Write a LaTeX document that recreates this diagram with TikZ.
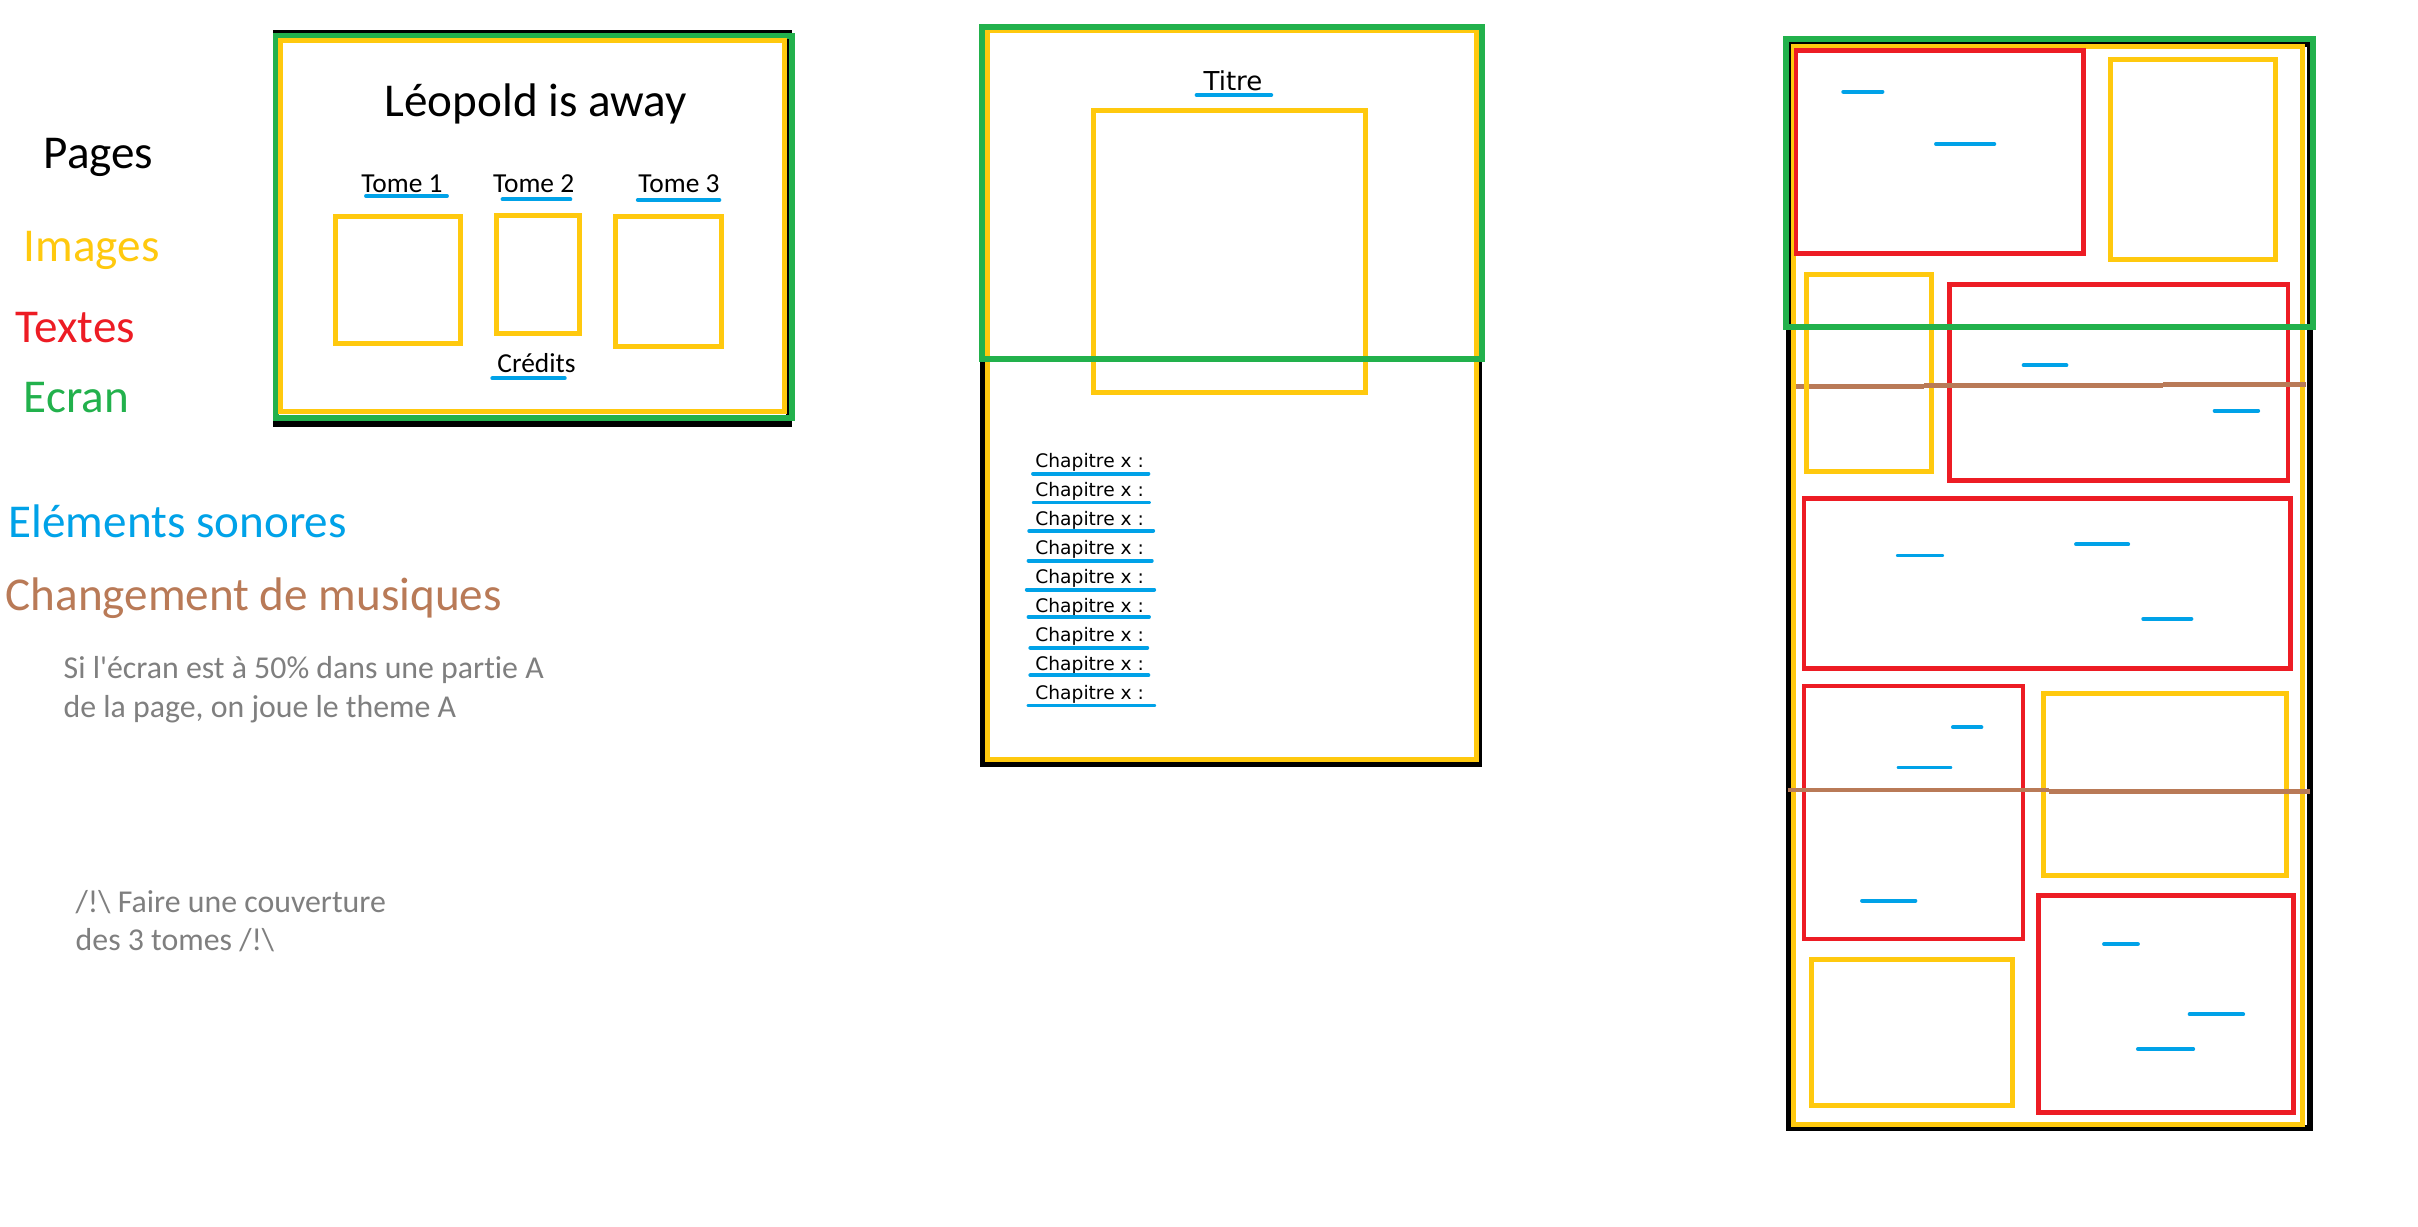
\documentclass[tikz,border=0pt]{standalone}
\usepackage{fontspec}
\setmainfont{Carlito}[Ligatures=NoCommon]
\newfontfamily\verd{DejaVu Sans}
\definecolor{pyellow}{HTML}{FFC90E}
\definecolor{pred}{HTML}{ED1C24}
\definecolor{pgreen}{HTML}{22B14C}
\definecolor{pblue}{HTML}{00A2E8}
\definecolor{pbrown}{HTML}{B97A57}
\definecolor{pgray}{HTML}{7F7F7F}
\newcommand{\legfont}{\fontsize{13.4}{16}\selectfont}
\newcommand{\notefont}{\fontsize{9.05}{11}\selectfont}
\newcommand{\tomefont}{\fontsize{7.8}{9}\selectfont}
\newcommand{\straightq}{\XeTeXglyph\XeTeXcharglyph"0027\relax}
\begin{document}
\begin{tikzpicture}[x=0.01cm,y=-0.01cm,
  pagebox/.style={draw=black, line width=1.7pt},
  imgbox/.style={draw=pyellow, line width=1.42pt},
  txtbox/.style={draw=pred, line width=1.3pt},
  scrbox/.style={draw=pgreen, line width=1.7pt},
  sound/.style={draw=pblue, line width=1.1pt, line cap=round},
  music/.style={draw=pbrown, line width=1.3pt},
  lbl/.style={inner sep=0pt, anchor=base west},
  ctr/.style={inner sep=0pt, anchor=base}]
\useasboundingbox (0,0) rectangle (2418,1226);
\fill[white] (0,0) rectangle (2418,1226);

% ---------- legend ----------
\node[lbl, font=\legfont] (pages) at (43,168) {Pages};
\node[lbl, font=\legfont, text=pyellow] (images) at (23,261) {Images};
\node[lbl, font=\legfont, text=pred] (textes) at (15,342.5) {Textes};
\node[lbl, font=\legfont, text=pgreen] (ecran) at (23,412.5) {Ecran};
\node[lbl, font=\legfont, text=pblue] (sonores) at (8,537) {Eléments sonores};
\node[lbl, font=\legfont, text=pbrown] (musiques) at (5,610.5) {Changement de musiques};
\node[lbl, font=\notefont, text=pgray] (note1) at (63,678.5) {Si l\straightq écran est à 50\% dans une partie A};
\node[lbl, font=\notefont, text=pgray] (note2) at (63,717) {de la page, on joue le theme A};
\node[lbl, font=\notefont, text=pgray] (warn1) at (75,912) {/!\textbackslash{} Faire une couverture};
\node[lbl, font=\notefont, text=pgray] (warn2) at (75,950.5) {des 3 tomes /!\textbackslash};

% ---------- page 1 : cover ----------
\draw[pagebox] (276,33) rectangle (789,424);
\draw[scrbox] (276,36) rectangle (792,418);
\draw[imgbox] (280.6,40.7) rectangle (784,411.7);
\node[ctr, font=\legfont] (leo) at (535.7,116) {Léopold is away};
\node[ctr, font=\tomefont] (tome1) at (402,192.5) {Tome 1};
\node[ctr, font=\tomefont] (tome2) at (533.7,192.5) {Tome 2};
\node[ctr, font=\tomefont] (tome3) at (679,192.5) {Tome 3};
\draw[sound] (366,196) -- (447,196);
\draw[sound] (502.5,199.3) -- (570.4,199.3);
\draw[sound] (637.8,200) -- (719.4,200);
\draw[imgbox] (335.7,216.7) rectangle (460.7,343.3);
\draw[imgbox] (496.4,215) rectangle (579,333.3);
\draw[imgbox] (615.8,216.7) rectangle (721,346);
\node[ctr, font=\tomefont] (credits) at (536.5,372.5) {Crédits};
\draw[sound] (492.3,378.3) -- (564.8,378.3);

% ---------- page 2 : chapters ----------
\draw[pagebox] (983,29) rectangle (1479,763.7);
\draw[imgbox] (987.2,30.8) rectangle (1476.9,759.7);
\draw[imgbox] (1093.3,110.4) rectangle (1365.3,392);
\draw[scrbox] (982,27.4) rectangle (1482,359.2);
\node[ctr, font=\verd\fontsize{7.4}{9}\selectfont] (titre) at (1233,90.5) {Titre};
\draw[sound] (1196.6,95) -- (1271.3,95);
\foreach \i/\yb/\yu/\xa/\xb in {1/467.7/473.6/1033/1148.4, 2/496.5/502.5/1033.7/1149,
   3/525.4/530.8/1029.2/1153.2, 4/554.7/560.7/1028.5/1151.8, 5/583.6/589.6/1026.8/1154.2,
   6/612.4/616.9/1028.5/1149, 7/641.8/647.8/1030.3/1147.3, 8/670.6/675.1/1030.3/1148.4,
   9/699.5/705.5/1028.5/1154.2}{
  \node[lbl, font=\verd\fontsize{5.3}{6}\selectfont] (chap\i) at (1034.7,\yb) {Chapitre x :};
  \draw[sound] (\xa,\yu) -- (\xb,\yu);
}

% ---------- page 3 : long scrolling page ----------
\draw[pagebox] (1788.6,44) rectangle (2309.5,1128.3);
\draw[music] (1794,386.7) -- (1924,386.7);
\draw[imgbox] (1793.2,46.7) rectangle (2302.9,1124);
% text blocks
\draw[txtbox] (1796,50.7) rectangle (2083.6,253.3);
\draw[txtbox] (1949.3,284.3) rectangle (2287.9,480.7);
\draw[txtbox] (1804,498.3) rectangle (2290.4,668.6);
\draw[txtbox] (1804,686) rectangle (2022.9,938.8);
\draw[txtbox] (2038.6,895.4) rectangle (2293.6,1112.3);
% images
\draw[imgbox] (2110,59.3) rectangle (2275.4,259.3);
\draw[imgbox] (1806.4,274.3) rectangle (1931.8,471.7);
\draw[imgbox] (2043.2,693.4) rectangle (2286,875.5);
\draw[imgbox] (1811,959.2) rectangle (2012.9,1105.3);
% sound elements
\draw[sound] (1843.2,91.7) -- (1882.5,91.7);
\draw[sound] (1936,144) -- (1994.3,144);
\draw[sound] (2023.6,365.3) -- (2066.4,365.3);
\draw[sound] (2214.6,410.7) -- (2258.2,410.7);
\draw[sound] (1897.9,555.5) -- (1942.1,555.5);
\draw[sound] (2076,544.2) -- (2128.2,544.2);
\draw[sound] (2143.2,618.8) -- (2191.4,618.8);
\draw[sound] (1952.9,727.2) -- (1981.4,727.2);
\draw[sound] (1898.6,767.5) -- (1950.4,767.5);
\draw[sound] (1862,900.6) -- (1915.4,900.6);
\draw[sound] (2104,944) -- (2137.9,944);
\draw[sound] (2189.6,1014.3) -- (2243.2,1014.3);
\draw[sound] (2137.9,1049) -- (2193.2,1049);
% music changes
\draw[music] (1924,385.3) -- (2163,385.3);
\draw[music] (2163,384.3) -- (2305.7,384.3);
\draw[music] (1787.9,790) -- (2048.6,790);
\draw[music] (2048.6,791.4) -- (2310,791.4);
% screen
\draw[scrbox] (1786,39.3) rectangle (2312.9,327.3);
\end{tikzpicture}
\end{document}
